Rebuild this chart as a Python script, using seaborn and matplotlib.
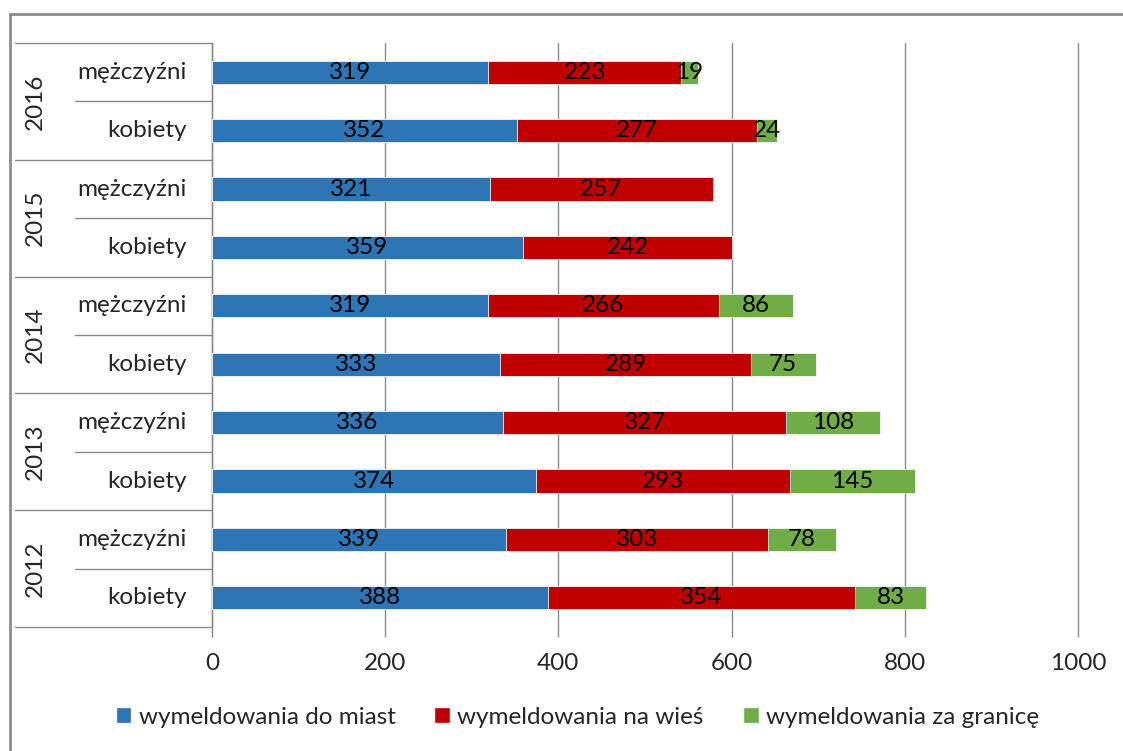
import numpy as np
import pandas as pd
import matplotlib
matplotlib.use("Agg")
import matplotlib.pyplot as plt
import matplotlib.transforms as mtransforms
from matplotlib.lines import Line2D
from matplotlib.patches import Rectangle, Patch
import seaborn as sns

# --- data -------------------------------------------------------------
years = ["2016", "2016", "2015", "2015", "2014", "2014", "2013", "2013", "2012", "2012"]
sexes = ["mężczyźni", "kobiety"] * 5
do_miast = [319, 352, 321, 359, 319, 333, 336, 374, 339, 388]
na_wies = [223, 277, 257, 242, 266, 289, 327, 293, 303, 354]
za_granice = [19, 24, 0, 0, 86, 75, 108, 145, 78, 83]
series_names = ["wymeldowania do miast", "wymeldowania na wieś", "wymeldowania za granicę"]
x_ticks = [0, 200, 400, 600, 800, 1000]

colors = ["#2E75B6", "#C00000", "#70AD47"]

sns.set_theme(style="white")
plt.rcParams["font.family"] = ["Lato", "DejaVu Sans"]
FS = 17.5

df = pd.DataFrame({
    "row": [f"{y}|{s}" for y, s in zip(years, sexes)],
    "miasta": do_miast,
    "wies": na_wies,
    "granica": za_granice,
})
df["cum1"] = df["miasta"]
df["cum2"] = df["miasta"] + df["wies"]
df["cum3"] = df["cum2"] + df["granica"]
order = list(df["row"])

fig = plt.figure(figsize=(11.23, 7.51), dpi=100)
ax = fig.add_axes([212 / 1123, 1 - 627 / 751, 866 / 1123, (627 - 43) / 751])

# stacked bars drawn as overlapping cumulative totals
for col, c in zip(["cum3", "cum2", "cum1"], colors[::-1]):
    sns.barplot(data=df, x=col, y="row", order=order, orient="h", color=c,
                saturation=1, width=0.4, edgecolor="#f4f4f4", linewidth=0.6,
                ax=ax, zorder=3)

# segment value labels
starts = [np.zeros(len(df)), df["cum1"].values, df["cum2"].values]
vals = [df["miasta"].values, df["wies"].values, df["granica"].values]
for st, v in zip(starts, vals):
    for i, (s0, vv) in enumerate(zip(st, v)):
        if vv > 0:
            ax.text(s0 + vv / 2, i, str(vv), ha="center", va="center",
                    fontsize=FS, color="black", zorder=5)

ax.set_xlim(0, 1000)
ax.set_ylim(len(df) - 0.5, -0.5)
ax.set_xticks(x_ticks)
ax.set_xticklabels([str(t) for t in x_ticks], fontsize=FS)
ax.set_yticks([])
ax.set_xlabel("")
ax.set_ylabel("")
ax.xaxis.grid(True, color="#8a8a8a", linewidth=1.0)
for gl in ax.get_xgridlines():
    gl.set_clip_on(False)
ax.set_axisbelow(True)
ax.tick_params(axis="x", length=7, width=1, color="#8a8a8a", pad=12, bottom=True)
for side in ["top", "right", "bottom"]:
    ax.spines[side].set_visible(False)
ax.spines["left"].set_color("#8a8a8a")
ax.spines["left"].set_linewidth(1.0)

# two-level category axis
trans = mtransforms.blended_transform_factory(ax.transAxes, ax.transData)
x_sub = (75 - 212) / 866
x_year = (15 - 212) / 866
for i, s in enumerate(sexes):
    ax.text(-0.029, i, s, transform=trans, ha="right", va="center", fontsize=FS)
for k in range(5):
    ax.text((35 - 212) / 866, 2 * k + 0.5, years[2 * k], transform=trans,
            ha="center", va="center", rotation=90, fontsize=FS)
    ax.add_line(Line2D([x_sub, 0], [2 * k + 0.5] * 2, transform=trans,
                       color="#8a8a8a", lw=1.0, clip_on=False))
for b in range(6):
    ax.add_line(Line2D([x_year, 0], [2 * b - 0.5] * 2, transform=trans,
                       color="#8a8a8a", lw=1.0, clip_on=False))

# legend
handles = [Patch(facecolor=c, edgecolor="#f4f4f4") for c in colors]
fig.legend(handles, series_names, loc="center", bbox_to_anchor=(0.514, 1 - 717 / 751),
           ncol=3, frameon=False, fontsize=FS, handlelength=0.65, handleheight=0.65,
           handletextpad=0.3, columnspacing=1.6)

# outer chart frame
fig.add_artist(Rectangle((10 / 1123, -0.1), 2.0, 1.1 - 14 / 751, transform=fig.transFigure,
                         fill=False, edgecolor="#8c8c8c", linewidth=2.0))

fig.savefig("out.png", dpi=100)
